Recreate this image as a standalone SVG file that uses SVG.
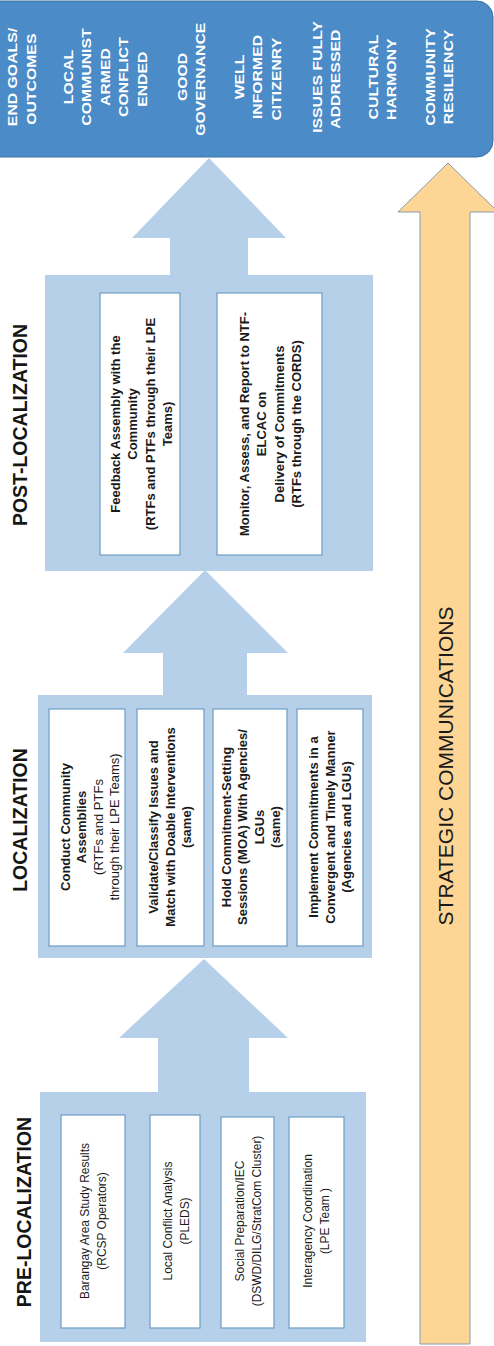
<svg xmlns="http://www.w3.org/2000/svg" width="494" height="1346" viewBox="0 0 494 1346">
<style>
.goal{font-family:"Liberation Sans",Arial,sans-serif;font-weight:bold;font-size:13.5px;fill:#ffffff;text-anchor:middle}
.title{font-family:"Liberation Sans",Arial,sans-serif;font-weight:bold;font-size:19.5px;fill:#161616;text-anchor:middle}
.bt{font-family:"Liberation Sans",Arial,sans-serif;font-weight:bold;font-size:13px;fill:#1a1a1a;text-anchor:middle}
.rt{font-family:"Liberation Sans",Arial,sans-serif;font-size:13px;fill:#1a1a1a;text-anchor:middle}
.pt{font-family:"Liberation Sans",Arial,sans-serif;font-size:13px;fill:#1a1a1a;text-anchor:middle}
.strat{font-family:"Liberation Sans",Arial,sans-serif;font-size:21px;fill:#1a1a1a;text-anchor:middle}
.phase{fill:#b7d0e9}
.inner{fill:#ffffff;stroke:#6e9dc4;stroke-width:1.2}
.arrow{fill:#b7d0e9}
</style>
<rect width="494" height="1346" fill="#ffffff"/>

<g id="end-goals">
<rect x="-20" y="1" width="513" height="156" rx="16" fill="#4b8bc7" stroke="#3a72a6" stroke-width="1"/>
<text class="goal" transform="translate(0,77) rotate(-90) scale(1.17,1)">
<tspan x="0" y="17.5">END GOALS/</tspan><tspan x="0" y="35.8">OUTCOMES</tspan>
<tspan x="0" y="72.8">LOCAL</tspan><tspan x="0" y="91.3">COMMUNIST</tspan><tspan x="0" y="109.8">ARMED</tspan><tspan x="0" y="128.3">CONFLICT</tspan><tspan x="0" y="146.8">ENDED</tspan>
<tspan x="0" y="186.8">GOOD</tspan><tspan x="0" y="205.3">GOVERNANCE</tspan>
<tspan x="0" y="243.8">WELL</tspan><tspan x="0" y="262.3">INFORMED</tspan><tspan x="0" y="280.8">CITIZENRY</tspan>
<tspan x="0" y="321.8">ISSUES FULLY</tspan><tspan x="0" y="340.3">ADDRESSED</tspan>
<tspan x="0" y="377.8">CULTURAL</tspan><tspan x="0" y="396.3">HARMONY</tspan>
<tspan x="0" y="434.8">COMMUNITY</tspan><tspan x="0" y="453.3">RESILIENCY</tspan>
</text>
</g>

<g id="connectors">
<polygon class="arrow" points="209,158 286,238 248,238 248,276 170,276 170,238 132,238"/>
<polygon class="arrow" points="205,570 288,653 247,653 247,696 163,696 163,653 123,653"/>
<polygon class="arrow" points="204,959 288,1038 249,1038 249,1093 158,1093 158,1038 119,1038"/>
</g>

<g id="strategic-communications">
<polygon points="448,163 498,212 470,212 470,1344 420,1344 420,212 398,212" fill="#fdd594" stroke="#8d9bb0" stroke-width="1"/>
<text class="strat" transform="translate(0,766) rotate(-90)"><tspan x="0" y="452.5">STRATEGIC COMMUNICATIONS</tspan></text>
</g>

<g id="post-localization">
<rect class="phase" x="45" y="275" width="328" height="296"/>
<text class="title" transform="translate(0,425) rotate(-90)"><tspan x="0" y="27">POST-LOCALIZATION</tspan></text>
<g id="post-1">
<rect class="inner" x="100" y="293" width="80" height="262"/>
<text class="bt" transform="translate(0,424) rotate(-90)"><tspan x="0" y="119.6">Feedback Assembly with the</tspan><tspan x="0" y="137.1">Community</tspan><tspan x="0" y="154.6">(RTFs and PTFs through their LPE</tspan><tspan x="0" y="172.1">Teams)</tspan></text>
</g>
<g id="post-2">
<rect class="inner" x="217" y="293" width="105" height="262"/>
<text class="bt" transform="translate(0,424) rotate(-90)"><tspan x="0" y="248.6">Monitor, Assess, and Report to NTF-</tspan><tspan x="0" y="266.1">ELCAC on</tspan><tspan x="0" y="283.6">Delivery of Commitments</tspan><tspan x="0" y="301.1">(RTFs through the CORDS)</tspan></text>
</g>
</g>

<g id="localization">
<rect class="phase" x="38" y="695" width="334" height="263"/>
<text class="title" transform="translate(0,820) rotate(-90)"><tspan x="0" y="27">LOCALIZATION</tspan></text>
<g id="loc-1">
<rect class="inner" x="49" y="709" width="76" height="237"/>
<text transform="translate(0,827) rotate(-90)"><tspan class="bt" x="0" y="69.6">Conduct Community</tspan><tspan class="bt" x="0" y="86.1">Assemblies</tspan><tspan class="rt" x="0" y="102.6">(RTFs and PTFs</tspan><tspan class="rt" x="0" y="119.1">through their LPE Teams)</tspan></text>
</g>
<g id="loc-2">
<rect class="inner" x="137" y="709" width="67" height="237"/>
<text class="bt" transform="translate(0,827) rotate(-90)"><tspan x="0" y="158.1">Validate/Classify Issues and</tspan><tspan x="0" y="174.6">Match with Doable Interventions</tspan><tspan x="0" y="191.1">(same)</tspan></text>
</g>
<g id="loc-3">
<rect class="inner" x="213" y="709" width="74" height="237"/>
<text class="bt" transform="translate(0,827) rotate(-90)"><tspan x="0" y="230.6">Hold Commitment-Setting</tspan><tspan x="0" y="247.1">Sessions (MOA) With Agencies/</tspan><tspan x="0" y="263.6">LGUs</tspan><tspan x="0" y="280.1">(same)</tspan></text>
</g>
<g id="loc-4">
<rect class="inner" x="297" y="709" width="66" height="237"/>
<text class="bt" transform="translate(0,827) rotate(-90)"><tspan x="0" y="318.1">Implement Commitments in a</tspan><tspan x="0" y="334.6">Convergent and Timely Manner</tspan><tspan x="0" y="351.1">(Agencies and LGUs)</tspan></text>
</g>
</g>

<g id="pre-localization">
<rect class="phase" x="40" y="1092" width="326" height="250"/>
<text class="title" transform="translate(0,1212) rotate(-90)"><tspan x="0" y="31">PRE-LOCALIZATION</tspan></text>
<g id="pre-1">
<rect class="inner" x="61" y="1115" width="64" height="213"/>
<text class="pt" transform="translate(0,1221) rotate(-90) scale(0.92,1)"><tspan x="0" y="89.3">Barangay Area Study Results</tspan><tspan x="0" y="106.3">(RCSP Operators)</tspan></text>
</g>
<g id="pre-2">
<rect class="inner" x="150" y="1115" width="50" height="213"/>
<text class="pt" transform="translate(0,1221) rotate(-90) scale(0.92,1)"><tspan x="0" y="172.3">Local Conflict Analysis</tspan><tspan x="0" y="189.3">(PLEDS)</tspan></text>
</g>
<g id="pre-3">
<rect class="inner" x="221" y="1117" width="53" height="211"/>
<text class="pt" transform="translate(0,1221) rotate(-90) scale(0.92,1)"><tspan x="0" y="244.3">Social Preparation/IEC</tspan><tspan x="0" y="261.3">(DSWD/DILG/StratCom Cluster)</tspan></text>
</g>
<g id="pre-4">
<rect class="inner" x="289" y="1117" width="55" height="211"/>
<text class="pt" transform="translate(0,1221) rotate(-90) scale(0.92,1)"><tspan x="0" y="312.3">Interagency Coordination</tspan><tspan x="0" y="329.3">(LPE Team )</tspan></text>
</g>
</g>
</svg>
